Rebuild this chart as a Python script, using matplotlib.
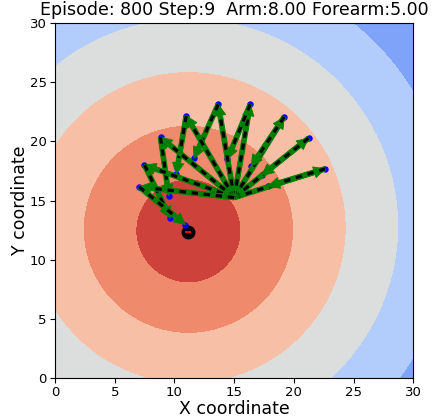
import numpy as np
import matplotlib
matplotlib.use("Agg")
import matplotlib.pyplot as plt

# Episode info
episode = 800
step = 9
arm_len = 8.0
forearm_len = 5.0

# Shoulder (base) position and goal position
shoulder = (15.0, 15.25)
target = (11.17, 12.3)

# Joint angles of the arm at each step (degrees)
shoulder_deg = [17.7, 38.9, 58.45, 80.3, 99.6, 120.1, 140.4, 159.8, 173.5]
elbow_deg = [179.5, 179.9, 178.05, 167.3, 146.5, 140.3, 137.6, 135.8, 146.9]

# Reward field: distance to goal with a slight vertical tilt
tilt = 0.03
level_step = 4.4
n_levels = 8

fig = plt.figure(figsize=(4.32, 4.17), dpi=100)
ax = fig.add_axes([0.1273, 0.0942, 0.8294, 0.8499])

xs = np.linspace(0, 30, 401)
X, Y = np.meshgrid(xs, xs)
D = np.hypot(X - target[0], Y - target[1]) - tilt * (Y - target[1])
levels = np.arange(n_levels) * level_step
ax.contourf(X, Y, D, levels=levels, cmap='coolwarm_r', zorder=0)

HEAD = 0.95


def limb(p, q):
    dx, dy = q[0] - p[0], q[1] - p[1]
    ax.arrow(p[0], p[1], dx, dy, width=0.4, head_width=0.95, head_length=HEAD,
             length_includes_head=True, fc='g', ec='g', lw=0.6, zorder=3)
    L = np.hypot(dx, dy)
    f = (L - HEAD) / L
    ax.plot([p[0], p[0] + dx * f], [p[1], p[1] + dy * f], color='k', lw=2.3,
            ls=(0, (2.0, 1.8)), solid_capstyle='butt', zorder=3)


# Target marker
ax.plot([target[0]], [target[1]], 'o', color='k', ms=9, zorder=2.4)
ax.plot([target[0]], [target[1]], '_', color='r', ms=4, mew=1.5, zorder=2.45)

elbows = []
hands = []
for a, e in zip(shoulder_deg, elbow_deg):
    a_r = np.deg2rad(a)
    f_r = np.deg2rad(a + e)
    ex = shoulder[0] + arm_len * np.cos(a_r)
    ey = shoulder[1] + arm_len * np.sin(a_r)
    hx = ex + forearm_len * np.cos(f_r)
    hy = ey + forearm_len * np.sin(f_r)
    elbows.append((ex, ey))
    hands.append((hx, hy))

for (ex, ey), (hx, hy) in zip(elbows, hands):
    ax.plot([ex, hx], [ey, hy], 'o', color='b', ms=3.6, ls='none', zorder=2.5)

for el, hd in zip(elbows, hands):
    limb(shoulder, el)
    limb(el, hd)

ax.set_xlim(0, 30)
ax.set_ylim(0, 30)
ax.set_xticks(np.arange(0, 31, 5))
ax.set_yticks(np.arange(0, 31, 5))
ax.tick_params(labelsize=9.5, pad=2.5)
ax.set_xlabel('X coordinate', fontsize=12.5, labelpad=0.5)
ax.set_ylabel('Y coordinate', fontsize=12.5, labelpad=0.5)
ax.set_title(f'Episode: {episode} Step:{step}  Arm:{arm_len:.2f} Forearm:{forearm_len:.2f}',
             fontsize=12.5)

fig.savefig('out.png', dpi=100)
